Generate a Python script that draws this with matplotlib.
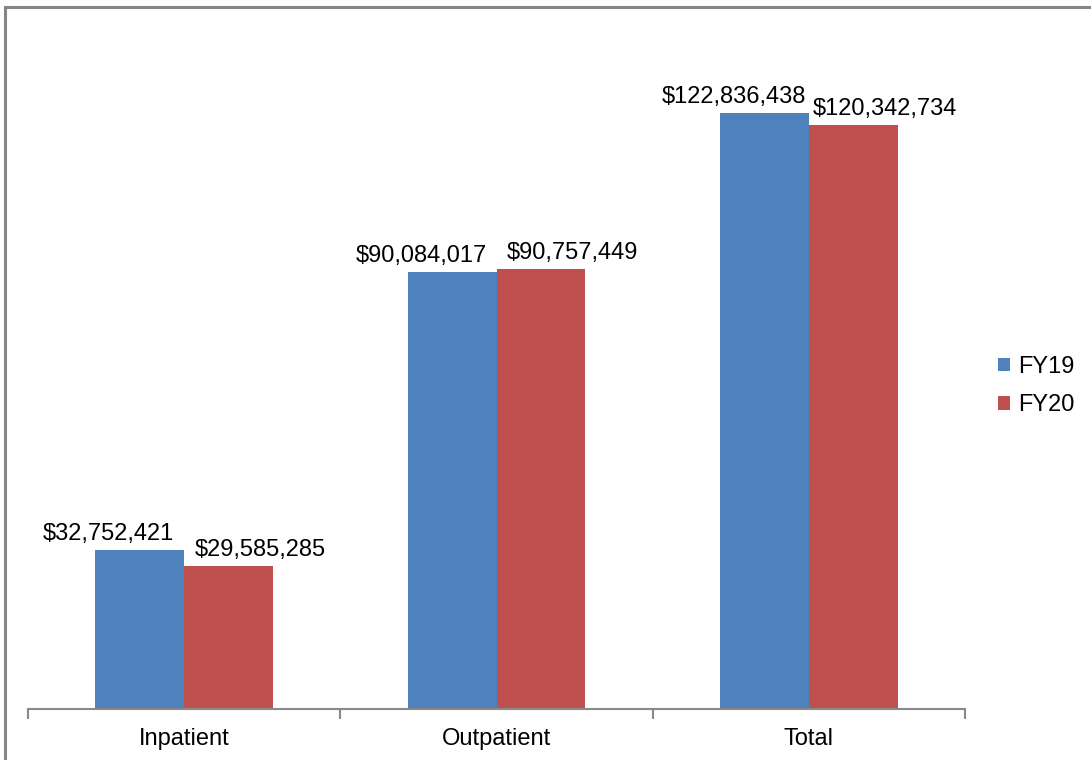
import numpy as np
import matplotlib.pyplot as plt
from matplotlib.lines import Line2D
from matplotlib.patches import Patch

plt.rcParams['font.family'] = ['Liberation Sans', 'DejaVu Sans']

categories = ["Inpatient", "Outpatient", "Total"]
fy19 = [32752421, 90084017, 122836438]
fy20 = [29585285, 90757449, 120342734]
series_names = ["FY19", "FY20"]
colors = ["#4F81BD", "#C0504D"]

W, H = 1091, 760
fig = plt.figure(figsize=(W / 100, H / 100), dpi=100)

# outer frame of the chart area (right and bottom edges fall off the canvas)
frame_color = "#868686"
fig.add_artist(Line2D([5 / W, 5 / W], [0, 1 - 7 / H], color=frame_color, lw=2.2,
                      transform=fig.transFigure))
fig.add_artist(Line2D([5 / W, 1], [1 - 7 / H, 1 - 7 / H], color=frame_color, lw=2.2,
                      transform=fig.transFigure))

ax = fig.add_axes([28 / W, (H - 709) / H, (965 - 28) / W, (709 - 30) / H])

x = np.arange(len(categories))
bw = 0.284
b1 = ax.bar(x - bw / 2, fy19, bw, color=colors[0])
b2 = ax.bar(x + bw / 2, fy20, bw, color=colors[1])

# value labels pushed apart so neighbouring labels don't collide
for bars, vals, dx in ((b1, fy19, -31), (b2, fy20, 32)):
    for rect, v in zip(bars, vals):
        ax.annotate("${:,}".format(v), (rect.get_x() + rect.get_width() / 2, v),
                    xytext=(dx, 10), textcoords="offset pixels",
                    ha="center", va="baseline", fontsize=17)

ax.set_xlim(-0.5, len(categories) - 0.5)
ax.set_ylim(0, 140000000)
ax.set_yticks([])

for s in ("left", "right", "top"):
    ax.spines[s].set_visible(False)
ax.spines["bottom"].set_color("#898989")
ax.spines["bottom"].set_linewidth(1.5)

# category boundary ticks, labels centered in between
ax.set_xticks(np.arange(len(categories) + 1) - 0.5)
ax.set_xticklabels([])
ax.set_xticks(x, minor=True)
ax.set_xticklabels(categories, minor=True, fontsize=17)
ax.tick_params(axis="x", which="major", length=7, width=1.5, color="#898989", direction="out")
ax.tick_params(axis="x", which="minor", length=0, pad=14)

handles = [Patch(facecolor=c, label=n) for c, n in zip(colors, series_names)]
fig.legend(handles=handles, loc="center left", bbox_to_anchor=(977 / W, 1 - 386 / H),
           frameon=False, fontsize=17, handlelength=0.5, handleheight=0.5,
           handletextpad=0.35, labelspacing=0.7)

fig.savefig("out.png", dpi=100)
